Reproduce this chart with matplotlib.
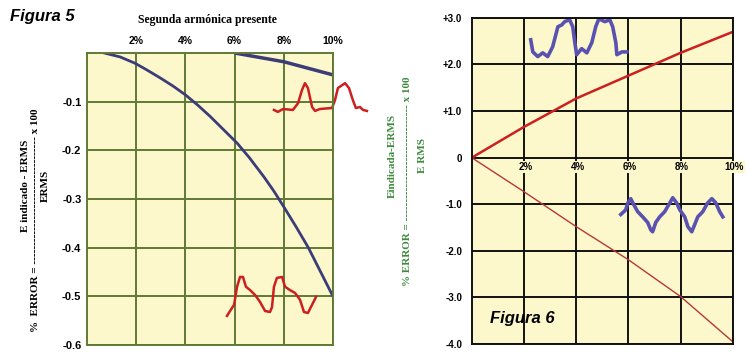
import matplotlib.pyplot as plt

# ---- Figura 5 data (second harmonic present) ----
f5_xticks = [2, 4, 6, 8, 10]
f5_xlabels = ['2%', '4%', '6%', '8%', '10%']
f5_yticks = [-0.1, -0.2, -0.3, -0.4, -0.5, -0.6]
f5_ylabels = ['-0.1', '-0.2', '-0.3', '-0.4', '-0.5', '-0.6']

f5_curve_a_x = [0.7, 1.34, 1.95, 2.44, 2.97, 3.5, 4.0, 4.5, 5.0, 5.5, 6.1, 6.6, 7.2,
                7.6, 8.0, 8.5, 9.0, 9.5, 10.0]
f5_curve_a_y = [0.0, -0.008, -0.021, -0.035, -0.051, -0.068, -0.086, -0.107, -0.130,
                -0.155, -0.185, -0.215, -0.255, -0.284, -0.316, -0.357, -0.40, -0.45, -0.50]
f5_curve_b_x = [6, 8, 10]
f5_curve_b_y = [0.0, -0.018, -0.045]

# hand-drawn waveforms (red)
f5_wave1_x = [7.60, 7.76, 7.97, 8.37, 8.58, 8.74, 8.86, 8.98, 9.15, 9.27, 9.47, 9.96,
              10.08, 10.20, 10.49, 10.65, 10.81, 10.93, 11.10, 11.22, 11.38]
f5_wave1_y = [-0.117, -0.121, -0.115, -0.117, -0.103, -0.076, -0.062, -0.072, -0.111, -0.119,
              -0.115, -0.113, -0.097, -0.072, -0.062, -0.072, -0.097, -0.113, -0.111, -0.117, -0.119]
f5_wave2_x = [5.69, 5.89, 5.98, 6.10, 6.22, 6.34, 6.46, 6.63, 6.83, 7.03, 7.24, 7.44, 7.52,
              7.60, 7.72, 7.93, 8.05, 8.25, 8.46, 8.66, 8.82, 8.98, 9.15, 9.31]
f5_wave2_y = [-0.540, -0.524, -0.517, -0.480, -0.460, -0.460, -0.480, -0.487, -0.497, -0.511,
              -0.530, -0.532, -0.522, -0.480, -0.462, -0.460, -0.480, -0.487, -0.493, -0.507,
              -0.532, -0.534, -0.517, -0.501]

# ---- Figura 6 data ----
f6_xticks = [2, 4, 6, 8, 10]
f6_xlabels = ['2%', '4%', '6%', '8%', '10%']
f6_yticks = [3, 2, 1, 0, -1, -2, -3, -4]
f6_ylabels = ['+3.0', '+2.0', '+1.0', '0', '-1.0', '-2.0', '-3.0', '-4.0']

f6_up_x = [0, 2, 4, 6, 8, 10]
f6_up_y = [0.0, 0.66, 1.27, 1.76, 2.25, 2.70]
f6_down_x = [0, 2, 4, 6, 8, 10]
f6_down_y = [0.0, -0.73, -1.48, -2.19, -2.98, -3.95]

f6_wave1_x = [2.26, 2.34, 2.53, 2.72, 2.91, 3.10, 3.30, 3.45, 3.56, 3.75, 3.87, 3.95, 4.02,
              4.21, 4.41, 4.60, 4.75, 4.87, 5.10, 5.29, 5.40, 5.52, 5.56, 5.75, 5.94]
f6_wave1_y = [2.53, 2.27, 2.17, 2.25, 2.17, 2.38, 2.81, 2.85, 2.92, 2.96, 2.81, 2.47, 2.21,
              2.34, 2.25, 2.47, 2.81, 2.98, 2.92, 2.96, 2.81, 2.47, 2.21, 2.27, 2.27]
f6_wave2_x = [5.71, 5.90, 5.98, 6.09, 6.21, 6.36, 6.55, 6.74, 6.86, 6.93, 7.05, 7.20, 7.39,
              7.59, 7.70, 7.85, 7.97, 8.16, 8.28, 8.43, 8.51, 8.66, 8.85, 9.04, 9.20, 9.35,
              9.50, 9.62]
f6_wave2_y = [-1.22, -1.12, -0.97, -0.88, -1.01, -1.16, -1.27, -1.39, -1.55, -1.59, -1.39,
              -1.27, -1.16, -0.97, -0.86, -0.97, -1.12, -1.27, -1.48, -1.59, -1.48, -1.27,
              -1.16, -0.97, -0.88, -0.97, -1.16, -1.27]

BG = '#fcf8cc'
GRID5 = '#5f7a35'
NAVY = '#3c3c78'
RED = '#cc1f1f'
BLUE = '#5a52b0'
GREEN = '#3f8a3f'
SERIF = 'Liberation Serif'
SANS = 'Liberation Sans'

fig = plt.figure(figsize=(7.5, 3.58), dpi=100)

# ---------------- Figura 5 ----------------
ax1 = fig.add_axes([0.116, 0.036, 0.328, 0.816])
ax1.set_facecolor(BG)
ax1.set_xlim(0, 10)
ax1.set_ylim(-0.6, 0)
ax1.xaxis.tick_top()
ax1.set_xticks(f5_xticks)
ax1.set_xticklabels(f5_xlabels, fontfamily=SANS, fontweight='bold', fontsize=7.5)
ax1.set_yticks(f5_yticks)
ax1.set_yticklabels(f5_ylabels, fontfamily=SANS, fontweight='bold', fontsize=8)
ax1.tick_params(length=0, pad=4)
ax1.tick_params(axis='x', pad=5)
ax1.grid(True, color=GRID5, lw=1.4)
for sp in ax1.spines.values():
    sp.set_color(GRID5)
    sp.set_linewidth(1.4)

ax1.plot(f5_curve_a_x, f5_curve_a_y, color=NAVY, lw=2)
ax1.plot(f5_curve_b_x, f5_curve_b_y, color=NAVY, lw=2.5, solid_capstyle='butt')
ax1.plot(f5_wave1_x, f5_wave1_y, color=RED, lw=1.8, clip_on=False)
ax1.plot(f5_wave2_x, f5_wave2_y, color=RED, lw=1.8, clip_on=False)

fig.text(0.013, 0.94, 'Figura 5', fontfamily=SANS, fontstyle='italic', fontweight='bold',
         fontsize=12)
fig.text(0.277, 0.945, 'Segunda armónica presente', fontfamily=SERIF, fontweight='bold',
         fontsize=8.5, ha='center', va='center')

# y-label as a fraction (vertical)
fig.text(0.047, 0.385, '%  ERROR = ---------------------------------- x 100', rotation=90,
         fontfamily=SERIF, fontweight='bold', fontsize=8, ha='center', va='center')
fig.text(0.034, 0.48, 'E indicado - ERMS', rotation=90, fontfamily=SERIF,
         fontweight='bold', fontsize=8, ha='center', va='center')
fig.text(0.061, 0.48, 'ERMS', rotation=90, fontfamily=SERIF,
         fontweight='bold', fontsize=8, ha='center', va='center')

# ---------------- Figura 6 ----------------
ax2 = fig.add_axes([0.629, 0.039, 0.348, 0.911])
ax2.set_facecolor(BG)
ax2.set_xlim(0, 10)
ax2.set_ylim(-4, 3)
ax2.set_xticks(f6_xticks)
ax2.set_xticklabels([])
ax2.set_yticks(f6_yticks)
ax2.set_yticklabels(f6_ylabels, fontfamily=SANS, fontweight='bold', fontsize=7)
ax2.tick_params(length=0, pad=7)
ax2.grid(True, color='#111111', lw=1.4)
for sp in ax2.spines.values():
    sp.set_color('#111111')
    sp.set_linewidth(1.4)

for xv, lab in zip(f6_xticks, f6_xlabels):
    ax2.text(xv + 0.05, -0.2, lab, fontfamily=SANS, fontweight='bold', fontsize=7,
             ha='center', va='center', clip_on=False,
             bbox=dict(facecolor=BG, edgecolor='none', pad=1))

ax2.plot(f6_up_x, f6_up_y, color=RED, lw=1.8)
ax2.plot(f6_down_x, f6_down_y, color='#b5383a', lw=1.0)
ax2.plot(f6_wave1_x, f6_wave1_y, color=BLUE, lw=2.6)
ax2.plot(f6_wave2_x, f6_wave2_y, color=BLUE, lw=2.6)

ax2.text(0.07, 0.065, 'Figura 6', transform=ax2.transAxes, fontfamily=SANS,
         fontstyle='italic', fontweight='bold', fontsize=12)

fig.text(0.543, 0.495, '% ERROR = ------------------------------- x 100', rotation=90,
         fontfamily=SERIF, fontweight='bold', fontsize=8, color=GREEN,
         ha='center', va='center')
fig.text(0.523, 0.565, 'Eindicada-ERMS', rotation=90, fontfamily=SERIF,
         fontweight='bold', fontsize=8, color=GREEN, ha='center', va='center')
fig.text(0.563, 0.565, 'E RMS', rotation=90, fontfamily=SERIF,
         fontweight='bold', fontsize=8, color=GREEN, ha='center', va='center')

fig.savefig('out.png', dpi=100)
